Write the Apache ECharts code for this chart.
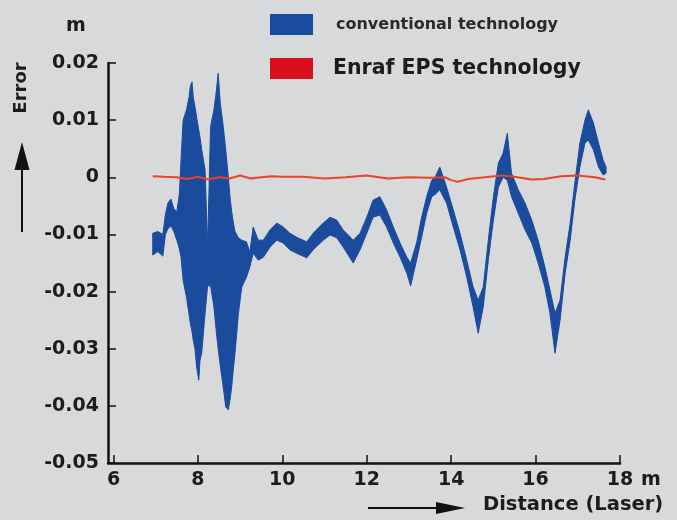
<!DOCTYPE html>
<html>
<head>
<meta charset="utf-8">
<script src="https://cdn.jsdelivr.net/npm/echarts@6/dist/echarts.min.js"></script>
<style>
html,body{margin:0;padding:0;background:#d8d9db;}
#chart{width:677px;height:520px;}
</style>
</head>
<body>
<div id="chart"></div>
<script>
// ---- data ----
// conventional technology: noisy trace, given as lower / upper envelope
const convX = [6.93,7.05,7.17,7.23,7.29,7.36,7.43,7.50,7.56,7.60,7.65,7.73,7.79,7.82,7.86,7.89,7.93,7.97,8.02,8.05,8.09,8.17,8.23,8.30,8.38,8.44,8.48,8.53,8.60,8.66,8.72,8.76,8.80,8.84,8.88,8.96,9.04,9.15,9.23,9.31,9.43,9.55,9.71,9.87,10.02,10.18,10.34,10.58,10.73,10.97,11.13,11.29,11.44,11.68,11.84,12.00,12.15,12.31,12.47,12.63,12.79,12.95,13.04,13.18,13.30,13.42,13.54,13.62,13.73,13.89,14.05,14.21,14.37,14.52,14.64,14.76,14.88,15.00,15.12,15.23,15.33,15.43,15.59,15.75,15.91,16.06,16.22,16.34,16.46,16.58,16.70,16.82,16.93,17.05,17.17,17.25,17.37,17.49,17.60,17.67];
const convHigh = [-0.0098,-0.0095,-0.0100,-0.0065,-0.0045,-0.0038,-0.0055,-0.0060,-0.0030,0.0030,0.0100,0.0118,0.0140,0.0159,0.0167,0.0140,0.0124,0.0105,0.0083,0.0070,0.0048,0.0013,-0.0120,0.0089,0.0118,0.0153,0.0182,0.0130,0.0089,0.0048,0.0001,-0.0034,-0.0060,-0.0080,-0.0095,-0.0106,-0.0110,-0.0113,-0.0131,-0.0087,-0.0110,-0.0110,-0.0092,-0.0080,-0.0087,-0.0098,-0.0105,-0.0113,-0.0098,-0.0080,-0.0070,-0.0075,-0.0092,-0.0110,-0.0098,-0.0070,-0.0040,-0.0034,-0.0057,-0.0087,-0.0115,-0.0140,-0.0150,-0.0115,-0.0070,-0.0034,-0.0005,0.0000,0.0018,-0.0017,-0.0057,-0.0098,-0.0145,-0.0192,-0.0215,-0.0192,-0.0110,-0.0034,0.0025,0.0042,0.0077,0.0007,-0.0022,-0.0045,-0.0075,-0.0110,-0.0157,-0.0197,-0.0238,-0.0215,-0.0140,-0.0080,-0.0010,0.0060,0.0100,0.0118,0.0095,0.0060,0.0030,0.0018];
const convLow = [-0.0136,-0.0130,-0.0138,-0.0100,-0.0090,-0.0085,-0.0095,-0.0110,-0.0125,-0.0140,-0.0180,-0.0210,-0.0240,-0.0255,-0.0270,-0.0285,-0.0300,-0.0332,-0.0355,-0.0320,-0.0307,-0.0238,-0.0190,-0.0190,-0.0227,-0.0273,-0.0300,-0.0330,-0.0367,-0.0402,-0.0407,-0.0390,-0.0367,-0.0335,-0.0307,-0.0238,-0.0192,-0.0175,-0.0157,-0.0133,-0.0145,-0.0140,-0.0122,-0.0110,-0.0115,-0.0127,-0.0133,-0.0141,-0.0127,-0.0110,-0.0101,-0.0106,-0.0122,-0.0150,-0.0127,-0.0098,-0.0070,-0.0066,-0.0087,-0.0115,-0.0140,-0.0168,-0.0190,-0.0145,-0.0105,-0.0063,-0.0034,-0.0030,-0.0022,-0.0045,-0.0087,-0.0127,-0.0175,-0.0227,-0.0273,-0.0227,-0.0145,-0.0075,-0.0017,0.0000,-0.0005,-0.0034,-0.0063,-0.0092,-0.0115,-0.0150,-0.0192,-0.0238,-0.0308,-0.0250,-0.0168,-0.0110,-0.0040,0.0018,0.0060,0.0065,0.0048,0.0018,0.0004,0.0007];
// Enraf EPS technology
const epsX = [6.93,7.2,7.5,7.75,8.0,8.25,8.5,8.75,9.0,9.25,9.5,9.75,10.0,10.5,11.0,11.5,12.0,12.5,13.0,13.5,13.85,14.0,14.15,14.4,14.8,15.2,15.5,15.9,16.2,16.6,17.0,17.4,17.65];
const epsY = [0.0002,0.0001,0.0000,-0.0003,0.0001,-0.0004,0.0000,-0.0002,0.0003,-0.0002,0.0000,0.0002,0.0001,0.0001,-0.0002,0.0000,0.0003,-0.0002,0.0000,-0.0001,0.0000,-0.0005,-0.0008,-0.0003,0.0000,0.0003,0.0001,-0.0004,-0.0003,0.0002,0.0003,0.0000,-0.0004];
// axis ticks
const xTicks = [6,8,10,12,14,16,18];
const yMin = -0.05, yMax = 0.02, yStep = 0.01;

const BLUE = '#1b4b9c';
const RED_LINE = '#e8432b';
const RED_KEY = '#dc0d1d';
const TXT = '#1c1c1c';
const FONT = 'DejaVu Sans';

const bandData = convX.map((x, i) => [x, convLow[i], convHigh[i]]);

function renderBand(params, api) {
  if (params.dataIndex !== 0) return null;
  const pts = [];
  for (let i = 0; i < bandData.length; i++) pts.push(api.coord([bandData[i][0], bandData[i][2]]));
  for (let i = bandData.length - 1; i >= 0; i--) pts.push(api.coord([bandData[i][0], bandData[i][1]]));
  return {
    type: 'polygon',
    shape: { points: pts },
    style: { fill: BLUE, stroke: BLUE, lineWidth: 1, lineJoin: 'round' }
  };
}

const chart = echarts.init(document.getElementById('chart'));
chart.setOption({
  backgroundColor: '#d8d9db',
  animation: false,
  textStyle: { fontFamily: FONT, fontWeight: 'bold', color: TXT },
  grid: { left: 108, right: 57, top: 63, bottom: 57 },
  legend: {
    orient: 'vertical', left: 265, top: 9, icon: 'rect',
    itemWidth: 43, itemHeight: 21, itemGap: 23, selectedMode: false,
    data: [
      { name: 'conventional technology', textStyle: { fontSize: 16, color: '#2a2a2a', padding: [0,0,0,18] } },
      { name: 'Enraf EPS technology', textStyle: { fontSize: 20.5, color: TXT, padding: [0,0,0,15] } }
    ],
    textStyle: { fontFamily: FONT, fontWeight: 'bold' }
  },
  xAxis: {
    type: 'value', min: 5.87, max: 18,
    axisLine: { onZero: false, lineStyle: { color: '#111', width: 2.5 } },
    axisTick: { inside: true, length: 8, lineStyle: { color: '#111', width: 1.5 }, customValues: xTicks },
    axisLabel: { customValues: xTicks, fontSize: 19, fontWeight: 'bold', color: TXT, fontFamily: FONT, margin: 8 },
    splitLine: { show: false }
  },
  yAxis: {
    type: 'value', min: yMin, max: yMax, interval: yStep,
    axisLine: { show: true, onZero: false, lineStyle: { color: '#111', width: 2.5 } },
    axisTick: { show: true, inside: true, length: 8, lineStyle: { color: '#111', width: 1.5 } },
    axisLabel: { fontSize: 19, fontWeight: 'bold', color: TXT, fontFamily: FONT, margin: 9,
      formatter: v => String(+v.toFixed(2)) },
    splitLine: { show: false }
  },
  series: [
    { name: 'conventional technology', type: 'custom', renderItem: renderBand,
      data: bandData, encode: { x: 0, y: [1, 2] },
      itemStyle: { color: BLUE }, z: 2 },
    { name: 'Enraf EPS technology', type: 'line', symbol: 'none',
      data: epsX.map((x, i) => [x, epsY[i]]),
      lineStyle: { color: RED_LINE, width: 2 }, itemStyle: { color: RED_KEY }, z: 5 }
  ],
  graphic: [
    { type: 'text', left: 66, top: 17, style: { text: 'm', font: 'bold 19px "DejaVu Sans"', fill: TXT } },
    { type: 'text', x: 21, y: 88, rotation: Math.PI / 2,
      style: { text: 'Error', font: 'bold 18px "DejaVu Sans"', fill: TXT, align: 'center', verticalAlign: 'middle' } },
    { type: 'line', shape: { x1: 22, y1: 232, x2: 22, y2: 165 }, style: { stroke: '#111', lineWidth: 2 } },
    { type: 'polygon', shape: { points: [[22, 142], [14.5, 170], [29.5, 170]] }, style: { fill: '#111' } },
    { type: 'text', x: 641, y: 480, style: { text: 'm', font: 'bold 19px "DejaVu Sans"', fill: TXT, verticalAlign: 'middle' } },
    { type: 'text', x: 483, y: 505, style: { text: 'Distance (Laser)', font: 'bold 19.5px "DejaVu Sans"', fill: TXT, verticalAlign: 'middle' } },
    { type: 'line', shape: { x1: 368, y1: 508, x2: 440, y2: 508 }, style: { stroke: '#111', lineWidth: 2 } },
    { type: 'polygon', shape: { points: [[465, 508], [436, 502], [436, 514]] }, style: { fill: '#111' } }
  ]
});
</script>
</body>
</html>
